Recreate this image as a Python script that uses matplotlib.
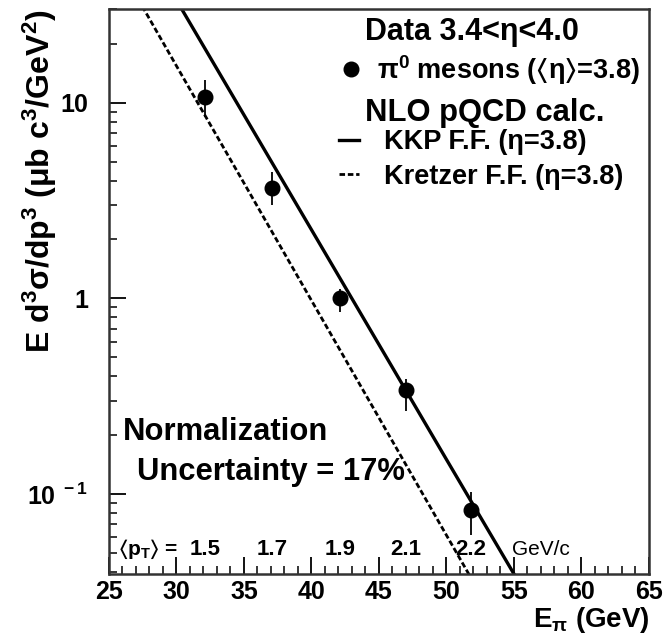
import matplotlib
matplotlib.use('Agg')
import matplotlib.pyplot as plt
import numpy as np
from matplotlib.lines import Line2D
from matplotlib.ticker import FixedLocator, MultipleLocator, LogLocator, NullFormatter

plt.rcParams['font.family'] = ['Liberation Sans', 'DejaVu Sans']
plt.rcParams['font.weight'] = 'bold'
plt.rcParams['mathtext.fontset'] = 'custom'
plt.rcParams['mathtext.rm'] = 'Liberation Sans:bold'
plt.rcParams['mathtext.it'] = 'Liberation Sans:bold'
plt.rcParams['mathtext.bf'] = 'Liberation Sans:bold'
plt.rcParams['mathtext.fallback'] = 'stixsans'

# pi0 cross section, 3.4 < eta < 4.0
e_pi = [32.1, 37.1, 42.1, 47.0, 51.8]
xsec = [10.7, 3.68, 1.0, 0.34, 0.083]
err_lo = [2.3, 0.68, 0.15, 0.075, 0.021]
err_hi = [2.4, 0.72, 0.11, 0.045, 0.019]
mean_pt = ['1.5', '1.7', '1.9', '2.1', '2.2']

# NLO pQCD curves
kkp_e = [30, 35, 40, 45, 50, 55]
kkp_xsec = [33.4, 8.65, 2.24, 0.58, 0.150, 0.039]
kretzer_e = [25, 30, 35, 40, 45, 50, 52]
kretzer_xsec = [61.5, 15.4, 3.88, 0.975, 0.245, 0.0615, 0.0354]

fig = plt.figure(figsize=(6.67, 6.37), dpi=100)
ax = fig.add_axes([0.1634, 0.0989, 0.8096, 0.8865])

ax.plot(kkp_e, kkp_xsec, color='black', lw=2.4)
ax.plot(kretzer_e, kretzer_xsec, color='black', lw=2.0, ls=(0, (2, 1)))
ax.errorbar(e_pi, xsec, yerr=[err_lo, err_hi], fmt='o', color='black',
            ms=10.5, elinewidth=1.3, capsize=0)

ax.set_yscale('log')
ax.set_xlim(25, 65)
ax.set_ylim(0.039, 30)

ax.xaxis.set_major_locator(MultipleLocator(5))
ax.xaxis.set_minor_locator(MultipleLocator(1))
ax.yaxis.set_major_locator(FixedLocator([0.1, 1, 10]))
ax.yaxis.set_minor_locator(LogLocator(base=10, subs=np.arange(2, 10)))
ax.yaxis.set_minor_formatter(NullFormatter())
ax.set_yticklabels([r'$\mathrm{10^{\ -1}}$', '1', '10'])
ax.tick_params(axis='both', which='major', direction='in', length=12, width=1.3,
               labelsize=18, top=False, right=False)
ax.tick_params(axis='both', which='minor', direction='in', length=6, width=1.1,
               top=False, right=False)
ax.tick_params(axis='x', pad=4)
ax.tick_params(axis='y', pad=15)
for lab in ax.get_xticklabels() + ax.get_yticklabels():
    lab.set_fontweight('bold')
for sp in ax.spines.values():
    sp.set_linewidth(1.8)
    sp.set_color('#333333')

fig.text(0.9745, 0.003, r'E$_{\mathrm{\pi}}$ (GeV)', ha='right', va='bottom',
         fontsize=20, fontweight='bold')
fig.text(0.06, 0.985, r'E d$^3$σ/dp$^3$ (μb c$^3$/GeV$^2$)', rotation=90,
         ha='center', va='top', fontsize=23, fontweight='bold')

# legend: data then calculations
ax.text(0.672, 0.960, 'Data 3.4<η<4.0', transform=ax.transAxes, fontsize=22,
        ha='center', va='center')
h_data = Line2D([], [], marker='o', color='black', ls='none', ms=10.5)
leg1 = ax.legend([h_data], [r'π$^0$ mesons ($\langle$η$\rangle$=3.8)'],
                 loc='center left', bbox_to_anchor=(0.423, 0.893), frameon=False,
                 fontsize=19.5, handlelength=1.0, handletextpad=0.46,
                 borderpad=0, borderaxespad=0)
ax.add_artist(leg1)

ax.text(0.696, 0.8163, 'NLO pQCD calc.', transform=ax.transAxes, fontsize=22.3,
        ha='center', va='center')
h_kkp = Line2D([], [], color='black', lw=2.4)
h_kre = Line2D([], [], color='black', lw=2.0, ls=(0, (2, 1)))
ax.legend([h_kkp, h_kre], ['KKP F.F. (η=3.8)', 'Kretzer F.F. (η=3.8)'],
          loc='center left', bbox_to_anchor=(0.426, 0.734), frameon=False,
          fontsize=19.5, handlelength=0.74, handletextpad=0.93,
          borderpad=0, borderaxespad=0, labelspacing=0.3)

ax.text(0.026, 0.252, 'Normalization', transform=ax.transAxes, fontsize=22.3,
        ha='left', va='center')
ax.text(0.052, 0.181, 'Uncertainty = 17%', transform=ax.transAxes, fontsize=22.3,
        ha='left', va='center')

# mean pT row
ax.text(0.016, 0.043, r'$\langle$p$_\mathrm{T}$$\rangle$ =', transform=ax.transAxes,
        fontsize=15, ha='left', va='center')
for e, pt in zip(e_pi, mean_pt):
    ax.text(e, 0.043, pt, transform=ax.get_xaxis_transform(), fontsize=16,
            ha='center', va='center')
ax.text(57.0, 0.043, 'GeV/c', transform=ax.get_xaxis_transform(), fontsize=15,
        ha='center', va='center', fontweight='normal')

fig.savefig('out.png', dpi=100)
